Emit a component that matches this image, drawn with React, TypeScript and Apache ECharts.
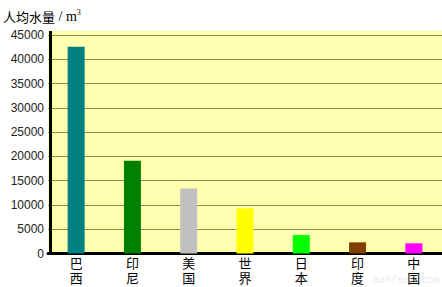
import React, { useEffect, useRef } from "react";
import * as echarts from "echarts";

const categories = ["巴西", "印尼", "美国", "世界", "日本", "印度", "中国"];
const values = [42600, 19100, 13400, 9300, 3800, 2300, 2100];
const barColors = ["#008080", "#008000", "#c0c0c0", "#ffff00", "#00ff00", "#804000", "#ff00ff"];
const yMax = 45000;
const yInterval = 5000;

export default function App() {
  const ref = useRef<HTMLDivElement>(null);
  useEffect(() => {
    document.body.style.margin = "0";
    const chart = echarts.init(ref.current!, null, { renderer: "svg" });
    chart.setOption({
      animation: false,
      backgroundColor: "#ffffff",
      grid: {
        left: 48,
        right: 0,
        top: 35,
        bottom: 33.5,
        show: true,
        backgroundColor: "#ffffb0",
        borderWidth: 0,
      },
      xAxis: {
        type: "category",
        data: categories,
        axisLine: { show: true, lineStyle: { color: "#000", width: 3 } },
        axisTick: { show: false },
        axisLabel: {
          interval: 0,
          margin: 2,
          fontSize: 13,
          lineHeight: 15,
          color: "#000",
          fontFamily: "'Liberation Sans', 'Noto Sans CJK SC'",
          formatter: (v: string) => v.split("").join("\n"),
        },
      },
      yAxis: {
        type: "value",
        min: 0,
        max: yMax,
        interval: yInterval,
        axisLine: { show: false },
        axisTick: { show: false },
        axisLabel: {
          margin: 4,
          fontSize: 12,
          color: "#222",
          fontFamily: "Liberation Sans",
          formatter: (v: number) => String(v),
        },
        splitLine: { show: true, lineStyle: { color: "#8c8c5a", width: 1 } },
      },
      graphic: [
        {
          type: "rect",
          shape: { x: 48, y: 31, width: 394, height: 4 },
          style: { fill: "#ffffb0" },
          silent: true,
        },
        {
          type: "line",
          shape: { x1: 50.5, y1: 31, x2: 50.5, y2: 255 },
          style: { stroke: "#000", lineWidth: 3 },
          z: 10,
          silent: true,
        },
        {
          type: "text",
          x: 3,
          y: 8,
          style: {
            text: "{a|人均水量}{b| / m}{c|3}",
            rich: {
              a: { fontSize: 13, fontFamily: "Noto Sans CJK SC", fill: "#000" },
              b: { fontSize: 14, fontFamily: "Liberation Serif", fill: "#000" },
              c: { fontSize: 8, fontFamily: "Liberation Serif", fill: "#000", padding: [0, 0, 8, 0] },
            },
          },
        },
        {
          type: "text",
          x: 373,
          y: 274,
          style: {
            text: "manfen5.com",
            fontSize: 10,
            fontFamily: "DejaVu Sans Mono",
            fill: "#ebebeb",
          },
          silent: true,
        },
      ],
      series: [
        {
          type: "bar",
          barWidth: 17,
          data: values.map((v, i) => ({ value: v, itemStyle: { color: barColors[i] } })),
        },
      ],
    });
    return () => chart.dispose();
  }, []);
  return <div ref={ref} style={{ width: 442, height: 287 }} />;
}
